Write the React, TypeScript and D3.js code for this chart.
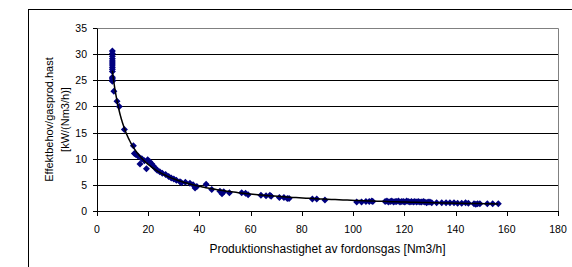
import React, { useMemo } from "react";
import * as d3 from "d3";

// measured points: production rate [Nm3/h] vs power demand per production rate [kW/(Nm3/h)]
const xValues = [
  6, 6, 6, 6, 6, 6, 6, 6, 6, 6, 6, 6, 6, 6,
  6.6, 7.8, 8.7, 10.7,
  14.2, 14.6, 15.2, 16.0, 16.8, 17.5, 18.5, 19.3, 19.8, 20.6, 21.4, 22.0, 22.8, 23.5, 24.5, 25.5,
  26.8, 28.0, 29.0, 30.0, 31.0, 32.4, 33.0, 34.5, 36.3, 37.5, 38.3, 39.0, 42.6, 44.8, 48.0, 48.8,
  49.5, 51.7, 56.5, 58.0, 59.0, 64.0, 66.0, 67.5, 68.0, 71.2, 73.0, 74.3, 75.0, 84.1, 85.8, 89.0,
  101.4, 103.3, 105.0, 106.3, 107.3, 107.7,
  112.5, 113.2, 113.8, 114.5, 115.1, 115.8, 116.4, 117.0, 117.7, 118.3, 119.0, 119.6, 120.2, 120.9,
  121.5, 122.2, 122.8, 123.5, 124.1, 124.8, 125.4, 126.1, 126.7, 127.4, 128.0, 128.7, 129.3, 130.0,
  130.7, 132.6, 134.6, 136.3, 137.8, 139.4, 140.8, 142.4, 143.9, 145.0, 147.2, 147.9, 148.6, 149.5,
  152.4, 154.5, 156.7,
];
const yValues = [
  30.6, 30.1, 29.6, 29.1, 28.7, 28.3, 27.9, 27.5, 27.1, 26.7, 25.6, 25.3, 25.0, 24.8,
  22.9, 21.0, 20.0, 15.6,
  12.5, 11.0, 10.8, 10.5, 9.0, 10.0, 9.6, 8.1, 9.8, 9.4, 9.0, 8.6, 8.2, 7.8, 7.5, 7.2,
  7.0, 6.6, 6.3, 6.1, 5.9, 5.6, 5.4, 5.5, 5.3, 5.0, 4.4, 4.7, 5.1, 4.1, 3.8, 3.3,
  3.7, 3.5, 3.5, 3.4, 3.1, 3.0, 2.9, 3.0, 2.8, 2.6, 2.6, 2.4, 2.4, 2.3, 2.3, 2.1,
  1.7, 1.7, 1.8, 1.8, 1.9, 1.8,
  1.8, 1.9, 1.7, 1.8, 1.9, 1.7, 1.8, 1.8, 1.9, 1.7, 1.8, 1.8, 1.7, 1.9,
  1.8, 1.7, 1.8, 1.7, 1.8, 1.7, 1.8, 1.7, 1.7, 1.8, 1.7, 1.6, 1.7, 1.7,
  1.6, 1.6, 1.6, 1.6, 1.6, 1.6, 1.5, 1.5, 1.6, 1.5, 1.4, 1.3, 1.4, 1.4,
  1.4, 1.4, 1.4,
];

const xTicks = [0, 20, 40, 60, 80, 100, 120, 140, 160, 180];
const yTicks = [0, 5, 10, 15, 20, 25, 30, 35];

const X_TITLE = "Produktionshastighet av fordonsgas [Nm3/h]";
const Y_TITLE = ["Effektbehov/gasprod.hast", "[kW/(Nm3/h)]"];

const W = 572;
const H = 267;
const PLOT = { left: 97, right: 558, top: 28, bottom: 211 };
const FONT = "'Liberation Sans', Arial, sans-serif";

export default function App() {
  const x = d3.scaleLinear().domain([0, 180]).range([PLOT.left, PLOT.right]);
  const y = d3.scaleLinear().domain([0, 35]).range([PLOT.bottom, PLOT.top]);

  const points = xValues.map((v, i) => ({ x: v, y: yValues[i] }));

  // power trendline y = a * x^b, least squares in log-log space
  const trend = useMemo(() => {
    const lx = points.map((p) => Math.log(p.x));
    const ly = points.map((p) => Math.log(p.y));
    const mx = d3.mean(lx) as number;
    const my = d3.mean(ly) as number;
    const b = d3.sum(lx, (v, i) => (v - mx) * (ly[i] - my)) / d3.sum(lx, (v) => (v - mx) ** 2);
    const a = Math.exp(my - b * mx);
    const [x0, x1] = d3.extent(xValues) as [number, number];
    const xs = d3.range(0, 201).map((i) => x0 * Math.pow(x1 / x0, i / 200));
    return xs.map((v) => ({ x: v, y: a * Math.pow(v, b) }));
  }, []);

  const line = d3
    .line<{ x: number; y: number }>()
    .x((d) => x(d.x))
    .y((d) => y(d.y));

  const diamond = "M0,-3.5L3.5,0L0,3.5L-3.5,0Z";
  const snap = (v: number) => Math.round(v) + 0.5;

  return (
    <svg
      width={W}
      height={H}
      style={{ position: "absolute", left: 0, top: 0, background: "#fff", fontFamily: FONT }}
    >
      <rect x={0} y={0} width={W} height={H} fill="#fff" />
      {/* chart area frame */}
      <rect x={28.5} y={9.5} width={600} height={300} fill="none" stroke="#000" />

      {/* gridlines */}
      {yTicks.slice(1, -1).map((t) => (
        <line key={t} x1={PLOT.left} x2={PLOT.right} y1={snap(y(t))} y2={snap(y(t))} stroke="#000" />
      ))}
      {/* plot border */}
      <path
        d={`M${PLOT.left},${snap(y(35))}H${snap(PLOT.right)}V${snap(PLOT.bottom)}`}
        fill="none"
        stroke="#808080"
      />

      {/* axes */}
      <line x1={snap(PLOT.left)} x2={snap(PLOT.left)} y1={snap(y(35))} y2={snap(PLOT.bottom)} stroke="#000" />
      <line x1={PLOT.left} x2={snap(PLOT.right)} y1={snap(PLOT.bottom)} y2={snap(PLOT.bottom)} stroke="#000" />
      {yTicks.map((t) => (
        <g key={t}>
          <line x1={PLOT.left - 4} x2={PLOT.left} y1={snap(y(t))} y2={snap(y(t))} stroke="#000" />
          <text x={PLOT.left - 10} y={y(t) + 4} textAnchor="end" fontSize={10.5} fill="#000">
            {t}
          </text>
        </g>
      ))}
      {xTicks.map((t) => (
        <g key={t}>
          <line x1={snap(x(t))} x2={snap(x(t))} y1={PLOT.bottom} y2={PLOT.bottom + 5} stroke="#000" />
          <text x={x(t)} y={233} textAnchor="middle" fontSize={10.5} fill="#000">
            {t}
          </text>
        </g>
      ))}

      {/* data */}
      {points.map((p, i) => (
        <path key={i} d={diamond} transform={`translate(${x(p.x)},${y(p.y)})`} fill="#000080" />
      ))}
      <path d={line(trend) ?? ""} fill="none" stroke="#000" strokeWidth={1.5} />

      {/* titles */}
      <text x={(PLOT.left + PLOT.right) / 2} y={253} textAnchor="middle" fontSize={12} fill="#000">
        {X_TITLE}
      </text>
      <g transform={`translate(0,${(PLOT.top + PLOT.bottom) / 2}) rotate(-90)`}>
        <text x={0} y={53} textAnchor="middle" fontSize={11} fill="#000">
          {Y_TITLE[0]}
        </text>
        <text x={0} y={69} textAnchor="middle" fontSize={11} fill="#000">
          {Y_TITLE[1]}
        </text>
      </g>
    </svg>
  );
}
